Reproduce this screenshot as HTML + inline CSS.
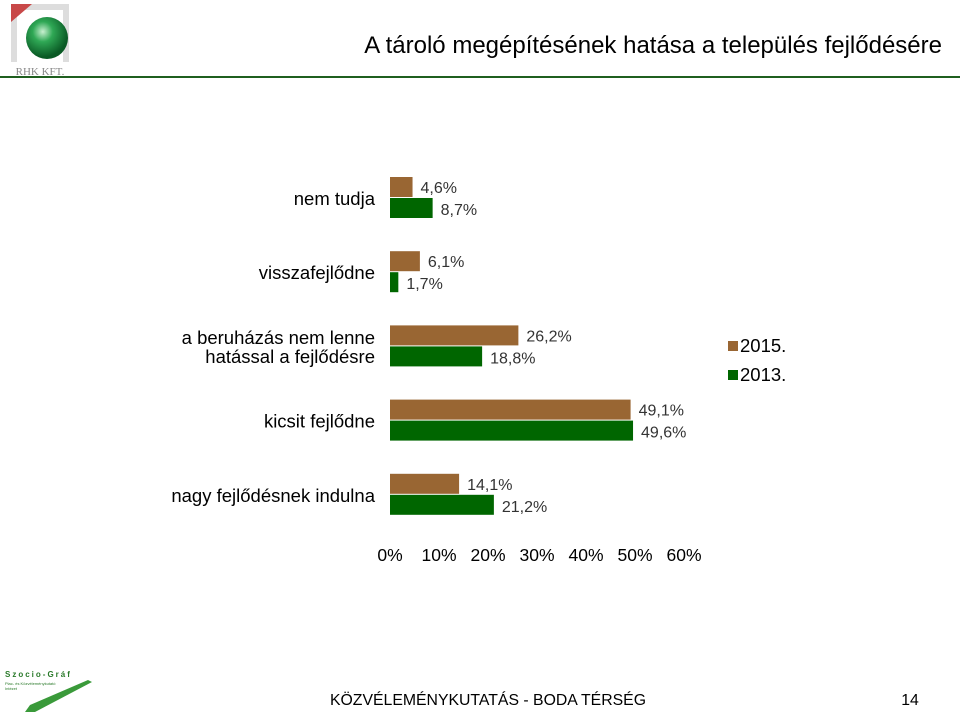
<!DOCTYPE html>
<html><head><meta charset="utf-8"><style>
body{margin:0;width:960px;height:720px;background:#fff;font-family:"Liberation Sans",sans-serif;overflow:hidden;position:relative}
</style></head><body>
<svg width="960" height="720" style="position:absolute;left:0;top:0">
<defs><radialGradient id="ball" cx="0.4" cy="0.35" r="0.6"><stop offset="0" stop-color="#c8f0d0"/><stop offset="0.4" stop-color="#2fa855"/><stop offset="1" stop-color="#0a5a25"/></radialGradient></defs>
<g>
<rect x="11" y="4" width="58" height="58" fill="#ddd"/>
<rect x="17" y="10" width="46" height="52" fill="#fff"/>
<polygon points="11,4 32,4 11,22" fill="#c84848"/>
<circle cx="47" cy="38" r="21" fill="url(#ball)"/>
<text x="40" y="75" font-family="Liberation Serif" font-size="11" fill="#888" text-anchor="middle">RHK KFT.</text>
</g>
<line x1="0" y1="77" x2="960" y2="77" stroke="#1f5f1f" stroke-width="2"/>
<text x="942" y="53" font-size="24" text-anchor="end" fill="#000">A tároló megépítésének hatása a település fejlődésére</text>
<g id="chart"></g>
<g>
<rect x="728" y="341" width="10" height="10" fill="#996633"/><text x="740" y="352" font-size="18.5">2015.</text>
<rect x="728" y="370" width="10" height="10" fill="#006600"/><text x="740" y="381" font-size="18.5">2013.</text>
</g>
<g>
<text x="5" y="677" font-size="8" font-weight="bold" fill="#2a7a2a" letter-spacing="2">Szocio-Gráf</text>
<text x="5" y="685" font-size="4" fill="#2a7a2a">Piac- és Közvéleménykutató</text>
<text x="5" y="690" font-size="4" fill="#2a7a2a">Intézet</text>
<polygon points="25,712 30,705 88,680 92,682 35,712" fill="#3a9a3a"/>
</g>
<text x="488" y="705" font-size="15.8" text-anchor="middle">KÖZVÉLEMÉNYKUTATÁS - BODA TÉRSÉG</text>
<text x="910" y="705" font-size="15.8" text-anchor="middle">14</text>
</svg>
<script>
const categories=["nem tudja","visszafejlődne","a beruházás nem lenne|hatással a fejlődésre","kicsit fejlődne","nagy fejlődésnek indulna"];
const values2015=[4.6,6.1,26.2,49.1,14.1];
const values2013=[8.7,1.7,18.8,49.6,21.2];
const ticks=[0,10,20,30,40,50,60];
const NS="http://www.w3.org/2000/svg";
const g=document.getElementById('chart');
const x=v=>390+v*4.9;
const yc=i=>198+i*74.2;
function mk(t,a,txt){const e=document.createElementNS(NS,t);for(const k in a)e.setAttribute(k,a[k]);if(txt!==undefined)e.textContent=txt;g.appendChild(e);return e;}
categories.forEach((c,i)=>{
  const y=yc(i);
  const b1=mk('rect',{x:x(0),y:y-21,width:x(values2015[i])-x(0),height:20,fill:'#996633'});
  
  
  const b2=mk('rect',{x:x(0),y:y,width:x(values2013[i])-x(0),height:20,fill:'#006600'});
  
  
  const l1=mk('text',{x:x(values2015[i])+8,y:y-5,'font-size':16,fill:'#333'},values2015[i].toFixed(1).replace('.',',')+'%');
  
  
  const l2=mk('text',{x:x(values2013[i])+8,y:y+17,'font-size':16,fill:'#333'},values2013[i].toFixed(1).replace('.',',')+'%');
  
  
  const parts=c.split('|');
  parts.forEach((p,k)=>{
    const t=mk('text',{x:375,y:y+7+(k-(parts.length-1)/2)*19,'font-size':18.5,'text-anchor':'end',fill:'#000'},p);
    
    
  });
});
ticks.forEach(v=>{
  const t=mk('text',{x:x(v),y:561,'font-size':17.5,'text-anchor':'middle',fill:'#000'},v+'%');
  
  
});
</script>
</body></html>
